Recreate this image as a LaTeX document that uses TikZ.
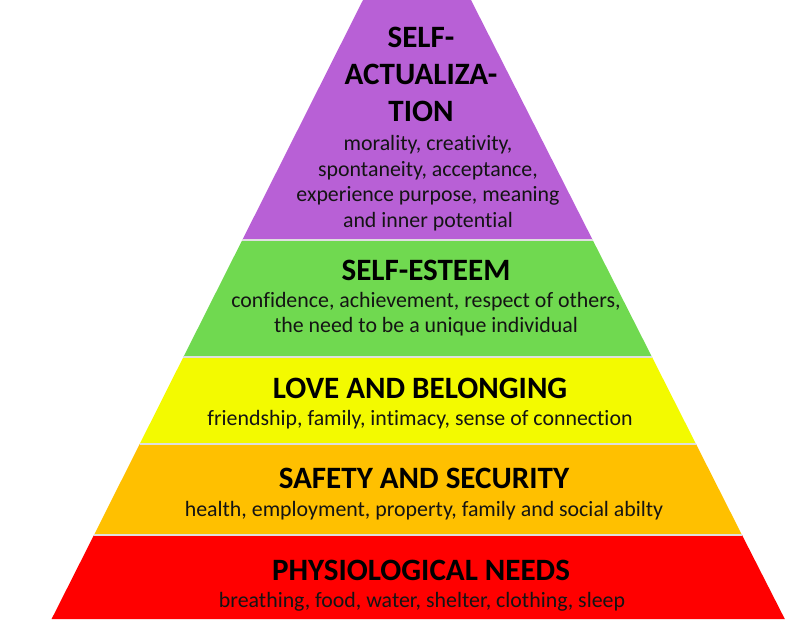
\documentclass[tikz,border=0pt]{standalone}
\usepackage{fontspec}
\setmainfont{Carlito}[Ligatures=NoCommon]
\usepackage{tikz}

\definecolor{tierPurple}{RGB}{184,96,214}
\definecolor{tierGreen}{RGB}{112,217,80}
\definecolor{tierYellow}{RGB}{243,250,0}
\definecolor{tierOrange}{RGB}{255,192,0}
\definecolor{tierRed}{RGB}{255,0,0}

\tikzset{
  tiertitle/.style={font=\fontsize{23.3}{27.75}\selectfont\bfseries, align=center, inner sep=0.75pt},
  tiertext/.style={font=\fontsize{16.4}{19.2}\selectfont, align=center, inner sep=0.75pt, text=black!92},
  tierline/.style={draw=white!75!gray, line width=1pt}
}

\begin{document}
\begin{tikzpicture}[x=0.75pt,y=0.75pt,yscale=-1,xscale=1]
\useasboundingbox (0,0) rectangle (808,619);

%Trapezoid: self-actualization
\fill [tierPurple] (363,0) -- (471,0) -- (592.7,240) -- (242.3,240) -- cycle ;
%Trapezoid: self-esteem
\fill [tierGreen] (242.3,240) -- (592.7,240) -- (652,357) -- (183.4,357) -- cycle ;
%Trapezoid: love and belonging
\fill [tierYellow] (183.4,357) -- (652,357) -- (696,444) -- (139.7,444) -- cycle ;
%Trapezoid: safety and security
\fill [tierOrange] (139.7,444) -- (696,444) -- (742,535) -- (94,535) -- cycle ;
%Trapezoid: physiological needs
\fill [tierRed] (94,535) -- (742,535) -- (784.8,619) -- (51.6,619) -- cycle ;

%Straight Lines: tier borders
\draw [tierline] (242.3,240) -- (592.7,240) ;
\draw [tierline] (183.4,357) -- (652,357) ;
\draw [tierline] (139.7,444) -- (696,444) ;
\draw [tierline] (94,535) -- (742,535) ;

% Text Node
\node [tiertitle] (actTitle) at (421,74) {SELF-\\ACTUALIZA-\\TION};
% Text Node
\node [tiertext] (actText) at (428,183) {morality, creativity,\\spontaneity, acceptance,\\experience purpose, meaning\\and inner potential};
% Text Node
\node [tiertitle] (esteemTitle) at (426,270) {SELF-ESTEEM};
% Text Node
\node [tiertext] (esteemText) at (426,314) {confidence, achievement, respect of others,\\the need to be a unique individual};
% Text Node
\node [tiertitle] (loveTitle) at (420,388) {LOVE AND BELONGING};
% Text Node
\node [tiertext] (loveText) at (420,420) {friendship, family, intimacy, sense of connection};
% Text Node
\node [tiertitle] (safetyTitle) at (424,478) {SAFETY AND SECURITY};
% Text Node
\node [tiertext] (safetyText) at (424,511) {health, employment, property, family and social abilty};
% Text Node
\node [tiertitle] (physioTitle) at (421,570) {PHYSIOLOGICAL NEEDS};
% Text Node
\node [tiertext] (physioText) at (422,602) {breathing, food, water, shelter, clothing, sleep};

\end{tikzpicture}
\end{document}
